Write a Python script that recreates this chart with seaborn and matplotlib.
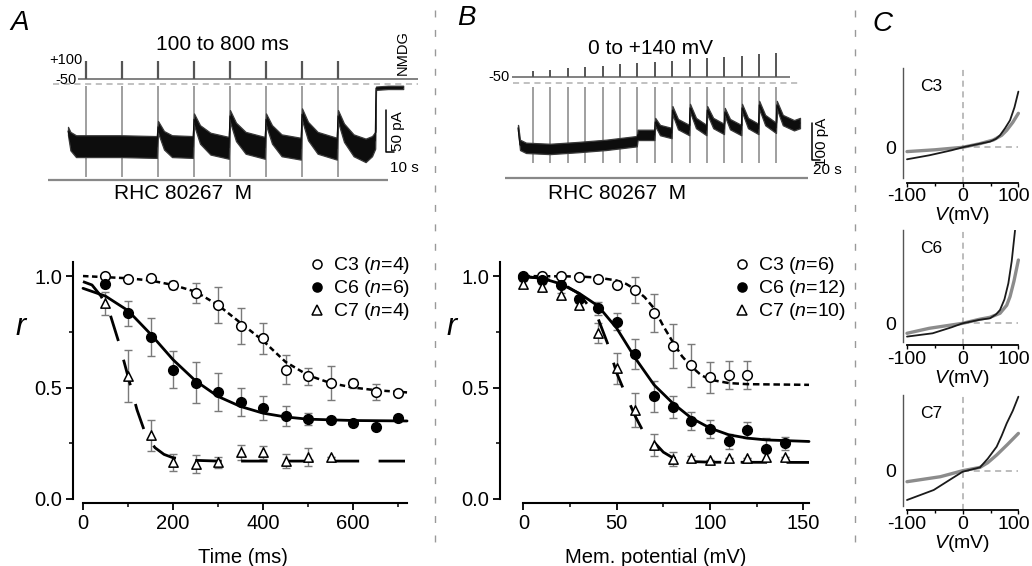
import matplotlib
matplotlib.use("Agg")
import matplotlib.pyplot as plt
import seaborn as sns
from matplotlib.lines import Line2D
from matplotlib.ticker import FixedLocator
from matplotlib.transforms import ScaledTranslation

# ---------------- data ----------------
# panel A, bottom: r vs pulse duration
a_time = [50, 100, 150, 200, 250, 300, 350, 400, 450, 500, 550, 600, 650, 700]
a_c3 = [1.00, 0.985, 0.99, 0.96, 0.925, 0.87, 0.776, 0.72, 0.58, 0.55, 0.52, 0.52, 0.48, 0.475]
a_c3_err = [0, 0, 0, 0.02, 0.045, 0.08, 0.08, 0.07, 0.065, 0.037, 0.075, 0.02, 0.037, 0.01]
a_c6 = [0.964, 0.833, 0.725, 0.58, 0.522, 0.478, 0.433, 0.41, 0.373, 0.36, 0.355, 0.34, 0.322, 0.363]
a_c6_err = [0, 0.055, 0.085, 0.083, 0.092, 0.085, 0.063, 0.054, 0.045, 0.026, 0, 0, 0, 0]
a_time7 = [50, 100, 150, 200, 250, 300, 350, 400, 450, 500, 550]
a_c7 = [0.878, 0.552, 0.285, 0.164, 0.158, 0.165, 0.209, 0.209, 0.17, 0.19, 0.188]
a_c7_err = [0.052, 0.117, 0.07, 0.04, 0.04, 0.025, 0.033, 0.028, 0.033, 0.04, 0]

a_fit3_t = [0, 100, 150, 200, 250, 300, 350, 400, 450, 500, 550, 600, 650, 720]
a_fit3 = [1.0, 0.99, 0.98, 0.96, 0.93, 0.87, 0.79, 0.71, 0.615, 0.555, 0.52, 0.50, 0.488, 0.478]
a_fit6_t = [0, 50, 100, 150, 200, 250, 300, 350, 400, 450, 500, 600, 720]
a_fit6 = [0.945, 0.91, 0.845, 0.74, 0.625, 0.53, 0.46, 0.415, 0.385, 0.368, 0.358, 0.352, 0.35]
a_fit7_t = [0, 20, 40, 60, 80, 100, 120, 140, 160, 180, 200, 240, 300, 720]
a_fit7 = [0.975, 0.96, 0.91, 0.83, 0.70, 0.55, 0.40, 0.285, 0.23, 0.20, 0.185, 0.174, 0.17, 0.17]

# panel B, bottom: r vs membrane potential
b_mv = [0, 10, 20, 30, 40, 50, 60, 70, 80, 90, 100, 110, 120, 130, 140]
b_mv3 = [0, 10, 20, 30, 40, 50, 60, 70, 80, 90, 100, 110, 120]
b_c3 = [1.0, 1.0, 1.0, 0.997, 0.985, 0.96, 0.937, 0.833, 0.687, 0.60, 0.546, 0.557, 0.557]
b_c3_err = [0, 0, 0, 0, 0, 0, 0.06, 0.085, 0.1, 0.097, 0.07, 0.063, 0.062]
b_c6 = [0.997, 0.982, 0.96, 0.896, 0.855, 0.796, 0.65, 0.46, 0.412, 0.348, 0.313, 0.258, 0.31, 0.225, 0.25]
b_c6_err = [0, 0, 0, 0, 0.03, 0.04, 0.067, 0.07, 0.05, 0.04, 0.04, 0.035, 0.035, 0.048, 0.03]
b_c7 = [0.964, 0.95, 0.915, 0.87, 0.743, 0.587, 0.40, 0.243, 0.18, 0.184, 0.173, 0.184, 0.184, 0.19, 0.19]
b_c7_err = [0.015, 0.015, 0.01, 0.01, 0.045, 0.07, 0.075, 0.05, 0.03, 0.01, 0, 0, 0, 0.02, 0]

b_fit3_v = [0, 30, 40, 50, 55, 60, 65, 70, 75, 80, 85, 90, 95, 100, 110, 120, 153]
b_fit3 = [1.0, 0.998, 0.993, 0.98, 0.965, 0.94, 0.905, 0.855, 0.775, 0.705, 0.64, 0.594, 0.557, 0.535, 0.52, 0.515, 0.512]
b_fit6_v = [0, 10, 20, 30, 40, 50, 60, 70, 80, 90, 100, 110, 120, 130, 153]
b_fit6 = [0.998, 0.99, 0.965, 0.922, 0.866, 0.766, 0.631, 0.512, 0.43, 0.363, 0.318, 0.288, 0.273, 0.265, 0.258]
b_fit7_v = [0, 10, 20, 30, 40, 45, 50, 55, 60, 65, 70, 75, 80, 90, 100, 153]
b_fit7 = [0.998, 0.99, 0.97, 0.92, 0.81, 0.70, 0.565, 0.465, 0.37, 0.29, 0.255, 0.21, 0.185, 0.168, 0.165, 0.164]

a_labels = ["C3 ($n$=4)", "C6 ($n$=6)", "C7 ($n$=4)"]
b_labels = ["C3 ($n$=6)", "C6 ($n$=12)", "C7 ($n$=10)"]

# panel A, top: current trace (s, pA) and pulse times
a_pulse_t = [22, 67, 112, 157, 202, 247, 292, 337]
a_trace_t = [0, 3, 10, 66, 111, 112.5, 120, 130, 156, 157.5, 165, 178, 201, 202.5, 210, 222, 246,
             247.5, 255, 267, 291, 292.5, 300, 312, 336, 337.5, 345, 357, 372, 380, 384, 385, 400, 419]
a_trace_mid = [-56, -68, -74, -74, -75, -51, -67, -74, -75, -42, -60, -71, -76, -38, -57, -70, -76,
               -42, -60, -73, -77, -36, -56, -70, -77, -38, -58, -73, -79, -74, -67, -5, -4, -4]
a_trace_half = [5, 11, 13, 13, 13, 7, 11, 13, 13, 7, 11, 13, 13, 7, 11, 13, 13,
                7, 11, 13, 13, 7, 11, 13, 13, 7, 11, 13, 14, 12, 10, 2, 2, 2]

# panel B, top: current trace (s, pA), pulse times and step potentials
b_pulse_t = [38, 81, 125, 168, 212, 255, 298, 342, 385, 429, 472, 516, 559, 602, 646]
b_steps = [0, 10, 20, 30, 40, 50, 60, 70, 80, 90, 100, 110, 120, 130, 140]
b_trace_t = [0, 5, 20, 80, 150, 220, 297, 299, 341, 343, 355, 384, 386, 400, 428, 430, 445, 471,
             473, 488, 515, 517, 530, 558, 560, 575, 601, 603, 618, 645, 647, 662, 690, 705]
b_trace_mid = [-122, -168, -176, -179, -174, -168, -158, -141, -141, -106, -128, -136, -74, -112, -128,
               -68, -109, -128, -74, -109, -125, -79, -112, -128, -68, -109, -125, -60, -101, -122,
               -60, -101, -115, -109]
b_trace_half = [8, 14, 14, 14, 14, 14, 14, 14, 14, 11, 14, 14, 11, 14, 14, 11, 14, 14,
                11, 14, 14, 11, 14, 14, 11, 14, 14, 11, 14, 14, 11, 14, 14, 14]

# panel C: I-V curves (mV, arbitrary current units)
c3_v_blk = [-100, -60, -20, 0, 30, 49, 60, 67, 76, 85, 93, 100]
c3_i_blk = [-12, -8, -3, 0, 3.5, 5.7, 8.5, 12, 19, 27, 40, 55.7]
c3_v_gry = [-100, -50, 0, 30, 55, 70, 79, 90, 100]
c3_i_gry = [-4.3, -2.5, 0, 3.5, 7.3, 12, 17, 25, 34]
c6_v_blk = [-100, -54, -20, 0, 30, 49, 60, 67, 75, 82, 88, 94]
c6_i_blk = [-13.3, -10, -4, 0, 3.5, 5, 9, 13.3, 24, 40, 62, 93]
c6_v_gry = [-100, -60, 0, 30, 49, 67, 79, 85, 92, 100]
c6_i_gry = [-10, -5, 0, 4, 6, 10, 18, 26.7, 42, 63.3]
c7_v_blk = [-100, -52, -20, 0, 31, 45, 61, 70, 79, 90, 100]
c7_i_blk = [-29.3, -19.3, -8, -1, 3.3, 12, 24, 35, 47.3, 60, 74]
c7_v_gry = [-100, -40, 0, 31, 45, 61, 80, 100]
c7_i_gry = [-11, -6, 0, 3.3, 8, 15.7, 26, 37.3]

# ---------------- style ----------------
sns.set_theme(style="ticks", rc={"axes.edgecolor": "black", "xtick.color": "black",
                                 "ytick.color": "black", "text.color": "black",
                                 "axes.labelcolor": "black"})
plt.rcParams["font.family"] = ["Liberation Sans", "DejaVu Sans"]
plt.rcParams["mathtext.fontset"] = "custom"
plt.rcParams["mathtext.rm"] = "Liberation Sans"
plt.rcParams["mathtext.it"] = "Liberation Sans:italic"
plt.rcParams["axes.unicode_minus"] = False

W, H = 1032, 566
fig = plt.figure(figsize=(W / 100, H / 100), dpi=100)
fig.patch.set_facecolor("white")


def box(x0, y0, x1, y1):
    # pixel box -> figure fraction rect
    return [x0 / W, 1 - y1 / H, (x1 - x0) / W, (y1 - y0) / H]


TRANS = "#8f8f8f"
ERR = "#7a7a7a"

# ---------------- panel A top ----------------
ax_ai = fig.add_axes(box(48, 50, 422, 200))
ax_ai.set_xlim(-25, 442.5)
ax_ai.set_ylim(-138.1, 40.5)
ax_ai.axis("off")
ax_av = ax_ai.twinx()
ax_av.set_ylim(-1058.3, 191.7)
ax_av.axis("off")

ax_av.hlines(-50, 12.5, 437.5, color="#777777", lw=1.3)
ax_av.vlines(a_pulse_t, -50, 100, color="#555555", lw=1.6)
ax_av.text(17.5, 108, "+100", ha="right", va="center", fontsize=10.5)
ax_av.text(11, -62, "-50", ha="right", va="center", fontsize=10.5)

ax_ai.hlines(0, -18.75, 437.5, color="#b0b0b0", lw=1.1, linestyles=(0, (4, 3)))
ax_ai.vlines(a_pulse_t, -110.7, -2.4, color=TRANS, lw=1.2)
a_lo = [m - h for m, h in zip(a_trace_mid, a_trace_half)]
a_hi = [m + h for m, h in zip(a_trace_mid, a_trace_half)]
ax_ai.fill_between(a_trace_t, a_lo, a_hi, color="#0d0d0d", edgecolor="#3a3a3a", lw=0.9, zorder=3)
sns.lineplot(x=a_trace_t, y=a_trace_mid, ax=ax_ai, color="#0d0d0d", lw=0.8, zorder=4)
ax_ai.hlines(-114.3, -25, 400, color="#888888", lw=1.6)
ax_ai.text(143.75, -130, "RHC 80267  M", ha="center", va="center", fontsize=15)
ax_ai.plot([397.5, 397.5, 407.5], [-31, -81, -81], color="black", lw=1.1, clip_on=False)
ax_ai.text(413, -56, "50 pA", rotation=90, ha="center", va="center", fontsize=11)
ax_ai.text(402.5, -100, "10 s", ha="left", va="center", fontsize=11)
ax_ai.text(419, 37.5, "NMDG", rotation=90, ha="center", va="center", fontsize=10.5, clip_on=False)

# ---------------- panel B top ----------------
ax_bi = fig.add_axes(box(490, 40, 845, 205))
ax_bi.set_xlim(-70, 817.5)
ax_bi.set_ylim(-330.5, 115.4)
ax_bi.axis("off")
ax_bv = ax_bi.twinx()
ax_bv.set_ylim(-1047.7, 241.4)
ax_bv.axis("off")

ax_bv.hlines(-50, -15, 680, color="#777777", lw=1.3)
ax_bv.vlines(b_pulse_t, -50, b_steps, color="#555555", lw=1.4)
ax_bv.text(-20, -50, "-50", ha="right", va="center", fontsize=10.5)

ax_bi.hlines(0, -12.5, 705, color="#b0b0b0", lw=1.1, linestyles=(0, (4, 3)))
ax_bi.vlines(b_pulse_t, -217, -10.8, color=TRANS, lw=1.2)
b_lo = [m - h for m, h in zip(b_trace_mid, b_trace_half)]
b_hi = [m + h for m, h in zip(b_trace_mid, b_trace_half)]
ax_bi.fill_between(b_trace_t, b_lo, b_hi, color="#0d0d0d", edgecolor="#3a3a3a", lw=0.9, zorder=3)
sns.lineplot(x=b_trace_t, y=b_trace_mid, ax=ax_bi, color="#0d0d0d", lw=0.8, zorder=4)
ax_bi.hlines(-256.8, -32.5, 725, color="#888888", lw=1.6)
ax_bi.text(247.5, -298.6, "RHC 80267  M", ha="center", va="center", fontsize=15)
ax_bi.plot([735, 735, 755], [-109, -209, -209], color="black", lw=1.1, clip_on=False)
ax_bi.text(760, -159, "100 pA", rotation=90, ha="center", va="center", fontsize=11)
ax_bi.text(737, -236, "20 s", ha="left", va="center", fontsize=11, clip_on=False)


# ---------------- summary panels ----------------
def add_series(ax, x, y, err, marker, face, size):
    ax.errorbar(x, y, yerr=err, fmt="none", ecolor=ERR, elinewidth=1.0,
                capsize=3, capthick=1.0, zorder=2)
    sns.scatterplot(x=x, y=y, ax=ax, marker=marker, s=size, color=face,
                    edgecolor="black", linewidth=1.1, zorder=4, legend=False)


def style_summary(ax, xlim, xbounds, xmajor, xminor, xlabel, labels, leg_x):
    ax.set_xlim(*xlim)
    ax.set_ylim(-0.018, 1.063)
    ax.set_facecolor("none")
    for s in ["top", "right"]:
        ax.spines[s].set_visible(False)
    ax.spines["left"].set_bounds(0, 1.063)
    ax.spines["bottom"].set_bounds(*xbounds)
    for s in ["left", "bottom"]:
        ax.spines[s].set_linewidth(1.5)
    ax.xaxis.set_major_locator(FixedLocator(xmajor))
    ax.xaxis.set_minor_locator(FixedLocator(xminor))
    ax.yaxis.set_major_locator(FixedLocator([0, 0.5, 1.0]))
    ax.yaxis.set_minor_locator(FixedLocator([0.25, 0.75]))
    ax.set_yticklabels(["0.0", "0.5", "1.0"])
    ax.tick_params(which="major", direction="out", length=5, width=1.3, labelsize=14.5, pad=3)
    ax.tick_params(which="minor", direction="out", length=3, width=1.1)
    ax.set_xlabel(xlabel, fontsize=14.5, labelpad=11)
    ax.set_ylabel("$r$", fontsize=22, rotation=0, va="center", ha="center")
    ax.yaxis.set_label_coords(-0.151, 0.73)
    handles = [
        Line2D([], [], ls="none", marker="o", ms=6.5, mfc="white", mec="black", mew=1.1),
        Line2D([], [], ls="none", marker="o", ms=6.5, mfc="black", mec="black", mew=1.1),
        Line2D([], [], ls="none", marker="^", ms=6.5, mfc="white", mec="black", mew=1.1),
    ]
    ax.legend(handles, labels, loc="upper left", bbox_to_anchor=(leg_x, 1.027),
              frameon=False, fontsize=14, handlelength=0.7, handletextpad=0.45,
              labelspacing=0.1, borderpad=0, borderaxespad=0)


ax_a = fig.add_axes(box(73, 262, 412, 503))
add_series(ax_a, a_time, a_c3, a_c3_err, "o", "white", 48)
add_series(ax_a, a_time, a_c6, a_c6_err, "o", "black", 48)
add_series(ax_a, a_time7, a_c7, a_c7_err, "^", "white", 45)
sns.lineplot(x=a_fit3_t, y=a_fit3, ax=ax_a, color="black", lw=1.8, linestyle=(0, (2.2, 1.4)), zorder=3)
sns.lineplot(x=a_fit6_t, y=a_fit6, ax=ax_a, color="black", lw=2.0, zorder=3)
sns.lineplot(x=a_fit7_t, y=a_fit7, ax=ax_a, color="black", lw=2.0, linestyle=(0, (9.5, 7)), zorder=3)
style_summary(ax_a, (-22.2, 731), (0, 720), [0, 200, 400, 600], [100, 300, 500, 700],
              "Time (ms)", a_labels, 0.70)

ax_b = fig.add_axes(box(500, 262, 812, 503))
add_series(ax_b, b_mv3, b_c3, b_c3_err, "o", "white", 48)
add_series(ax_b, b_mv, b_c6, b_c6_err, "o", "black", 48)
add_series(ax_b, b_mv, b_c7, b_c7_err, "^", "white", 45)
sns.lineplot(x=b_fit3_v, y=b_fit3, ax=ax_b, color="black", lw=1.8, linestyle=(0, (2.6, 1.5)), zorder=3)
sns.lineplot(x=b_fit6_v, y=b_fit6, ax=ax_b, color="black", lw=2.0, zorder=3)
sns.lineplot(x=b_fit7_v, y=b_fit7, ax=ax_b, color="black", lw=2.0, linestyle=(0, (9.5, 7)), zorder=3)
style_summary(ax_b, (-12.5, 154.6), (0, 153), [0, 50, 100, 150], [25, 75, 125],
              "Mem. potential (mV)", b_labels, 0.755)


# ---------------- panel C ----------------
def iv_panel(rect, ylim, spine_lo, v_blk, i_blk, v_gry, i_gry, name):
    ax = fig.add_axes(box(*rect))
    ax.set_xlim(-107.7, 106.5)
    ax.set_ylim(*ylim)
    ax.set_facecolor("none")
    ax.axvline(0, color="#aaaaaa", lw=1.1, ls=(0, (4, 3)), zorder=1)
    ax.hlines(0, 0, 100, color="#aaaaaa", lw=1.1, linestyles=(0, (4, 3)), zorder=1)
    sns.lineplot(x=v_gry, y=i_gry, ax=ax, color="#8c8c8c", lw=2.4, zorder=2)
    sns.lineplot(x=v_blk, y=i_blk, ax=ax, color="#1a1a1a", lw=1.3, zorder=3)
    for s in ["top", "right"]:
        ax.spines[s].set_visible(False)
    ax.spines["left"].set_bounds(spine_lo, ylim[1])
    ax.spines["bottom"].set_bounds(-100, 100)
    ax.spines["left"].set_linewidth(1.0)
    ax.spines["left"].set_color("#555555")
    ax.spines["bottom"].set_linewidth(1.3)
    ax.xaxis.set_major_locator(FixedLocator([-100, 0, 100]))
    ax.xaxis.set_minor_locator(FixedLocator([-50, 50]))
    ax.yaxis.set_major_locator(FixedLocator([0]))
    ax.tick_params(axis="x", which="major", direction="out", length=3, width=1.0, labelsize=14, pad=1)
    ax.tick_params(axis="x", which="minor", direction="out", length=2.5, width=1.0)
    ax.tick_params(axis="y", length=0, labelsize=14, pad=5)
    ax.set_xlabel("$V$(mV)", fontsize=14, labelpad=0)
    ax.text(0.15, 0.84, name, transform=ax.transAxes, fontsize=12.5, ha="left", va="center")
    fig.canvas.draw()
    last = ax.get_xticklabels()[-1]
    last.set_transform(last.get_transform() + ScaledTranslation(-0.05, 0, fig.dpi_scale_trans))
    return ax


iv_panel((902.7, 68, 1022, 182.7), (-35.4, 79.3), -30.7, c3_v_blk, c3_i_blk, c3_v_gry, c3_i_gry, "C3")
iv_panel((902.7, 230, 1022, 345), (-21.7, 93.3), -18.3, c6_v_blk, c6_i_blk, c6_v_gry, c6_i_gry, "C6")
iv_panel((902.7, 395, 1022, 510), (-39.3, 75.7), -35.3, c7_v_blk, c7_i_blk, c7_v_gry, c7_i_gry, "C7")

# ---------------- labels and separators ----------------
fig.text(10 / W, 1 - 23 / H, "A", fontsize=20, style="italic", va="center", ha="left")
fig.text(457 / W, 1 - 18 / H, "B", fontsize=20, style="italic", va="center", ha="left")
fig.text(872 / W, 1 - 24 / H, "C", fontsize=20, style="italic", va="center", ha="left")
fig.text(222 / W, 1 - 45 / H, "100 to 800 ms", fontsize=15, ha="center", va="center")
fig.text(650 / W, 1 - 49 / H, "0 to +140 mV", fontsize=15, ha="center", va="center")
for xs in (435, 855):
    fig.add_artist(Line2D([xs / W, xs / W], [1 - 10 / H, 1 - 550 / H], color="#999999",
                          lw=1.0, ls=(0, (5, 9))))

fig.savefig("out.png", dpi=100, facecolor="white")
